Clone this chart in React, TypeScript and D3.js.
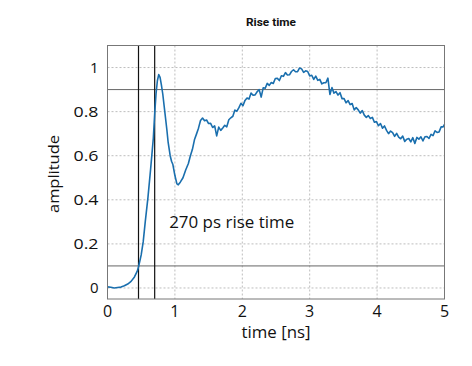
import React, { useRef, useEffect } from 'react';
import * as d3 from 'd3';

// time [ns] and amplitude
const TIME = [
  0.00, 0.05, 0.10, 0.15, 0.20, 0.25, 0.30, 0.35, 0.40, 0.44, 0.46, 0.50, 0.53, 0.56, 0.60, 0.64, 0.68, 0.70,
  0.72, 0.74, 0.76, 0.78, 0.80, 0.82, 0.85, 0.88, 0.90, 0.93, 0.95, 0.97, 1.00, 1.03, 1.05, 1.08, 1.12, 1.16,
  1.20, 1.23, 1.26, 1.29, 1.32, 1.35, 1.38, 1.41, 1.44, 1.47, 1.50, 1.53, 1.56, 1.59, 1.62, 1.65, 1.68, 1.71,
  1.74, 1.77, 1.80, 1.83, 1.86, 1.89, 1.92, 1.95, 1.98, 2.01, 2.04, 2.07, 2.10, 2.13, 2.16, 2.19, 2.22, 2.25,
  2.28, 2.31, 2.34, 2.37, 2.40, 2.43, 2.46, 2.49, 2.52, 2.55, 2.58, 2.61, 2.64, 2.67, 2.70, 2.73, 2.76, 2.79,
  2.82, 2.85, 2.88, 2.91, 2.94, 2.97, 3.00, 3.03, 3.06, 3.09, 3.12, 3.15, 3.18, 3.21, 3.24, 3.27, 3.30, 3.33,
  3.36, 3.39, 3.42, 3.45, 3.48, 3.51, 3.54, 3.57, 3.60, 3.63, 3.66, 3.69, 3.72, 3.75, 3.78, 3.81, 3.84, 3.87,
  3.90, 3.93, 3.96, 3.99, 4.02, 4.05, 4.08, 4.11, 4.14, 4.17, 4.20, 4.23, 4.26, 4.29, 4.32, 4.35, 4.38, 4.41,
  4.44, 4.47, 4.50, 4.53, 4.56, 4.59, 4.62, 4.65, 4.68, 4.71, 4.74, 4.77, 4.80, 4.83, 4.86, 4.89, 4.92, 4.95,
  4.98, 5.00,
];
const AMPLITUDE = [
  0.005, 0.003, 0.000, 0.002, 0.004, 0.010, 0.018, 0.030, 0.050, 0.075, 0.095, 0.150, 0.210, 0.300, 0.410, 0.540, 0.680, 0.790,
  0.880, 0.940, 0.968, 0.955, 0.920, 0.880, 0.800, 0.720, 0.660, 0.600, 0.575, 0.560, 0.510, 0.472, 0.468, 0.480, 0.500, 0.535,
  0.565, 0.600, 0.629, 0.672, 0.698, 0.725, 0.760, 0.771, 0.759, 0.762, 0.746, 0.747, 0.728, 0.735, 0.690, 0.730, 0.715, 0.726,
  0.738, 0.731, 0.763, 0.772, 0.779, 0.807, 0.802, 0.818, 0.838, 0.827, 0.851, 0.862, 0.857, 0.884, 0.874, 0.876, 0.890, 0.900,
  0.866, 0.908, 0.906, 0.928, 0.919, 0.932, 0.928, 0.950, 0.951, 0.941, 0.963, 0.960, 0.977, 0.966, 0.967, 0.982, 0.990, 0.981,
  0.981, 0.998, 0.994, 0.978, 0.985, 0.982, 0.962, 0.965, 0.946, 0.961, 0.942, 0.946, 0.926, 0.931, 0.931, 0.952, 0.878, 0.909,
  0.884, 0.891, 0.875, 0.886, 0.859, 0.859, 0.840, 0.850, 0.832, 0.837, 0.808, 0.818, 0.808, 0.793, 0.805, 0.784, 0.774, 0.782,
  0.769, 0.774, 0.752, 0.755, 0.736, 0.746, 0.725, 0.735, 0.715, 0.700, 0.712, 0.705, 0.688, 0.701, 0.684, 0.677, 0.689, 0.665,
  0.675, 0.678, 0.663, 0.682, 0.656, 0.683, 0.675, 0.686, 0.667, 0.686, 0.687, 0.678, 0.697, 0.691, 0.713, 0.706, 0.708, 0.731,
  0.731, 0.742,
];
const X_TICKS = [0, 1, 2, 3, 4, 5];
const Y_TICKS = [0, 0.2, 0.4, 0.6, 0.8, 1];
const THRESHOLDS = [0.1, 0.9];
const MARKERS = [0.46, 0.70];

export default function App() {
  const ref = useRef<SVGSVGElement>(null);

  useEffect(() => {
    const svg = d3.select(ref.current);
    svg.selectAll('*').remove();

    const W = 472, H = 366;
    const margin = { top: 45.5, right: 27.5, bottom: 67, left: 107.5 };
    const width = W - margin.left - margin.right;
    const height = H - margin.top - margin.bottom;
    const font = "'Open Sans', sans-serif";

    const x = d3.scaleLinear().domain([0, 5]).range([0, width]);
    const y = d3.scaleLinear().domain([-0.05, 1.1]).range([height, 0]);

    svg.append('rect').attr('width', W).attr('height', H).attr('fill', '#fff');

    svg.append('text')
      .attr('x', 246).attr('y', 26)
      .attr('font-family', 'Roboto, sans-serif')
      .attr('font-weight', 'bold')
      .attr('font-size', '11px')
      .attr('textLength', 50)
      .attr('lengthAdjust', 'spacingAndGlyphs')
      .attr('fill', '#111')
      .text('Rise time');

    const g = svg.append('g').attr('transform', `translate(${margin.left},${margin.top})`);

    // ── grid ──
    X_TICKS.slice(1, -1).forEach(t => {
      g.append('line')
        .attr('x1', x(t)).attr('x2', x(t)).attr('y1', 0).attr('y2', height)
        .attr('stroke', '#bdbdbd').attr('stroke-dasharray', '2,2');
    });
    Y_TICKS.forEach(t => {
      g.append('line')
        .attr('x1', 0).attr('x2', width).attr('y1', y(t)).attr('y2', y(t))
        .attr('stroke', '#bdbdbd').attr('stroke-dasharray', '2,2');
    });

    // ── threshold & marker lines ──
    THRESHOLDS.forEach(t => {
      g.append('line')
        .attr('x1', 0).attr('x2', width).attr('y1', y(t)).attr('y2', y(t))
        .attr('stroke', '#666').attr('stroke-width', 1);
    });
    MARKERS.forEach(t => {
      g.append('line')
        .attr('x1', x(t)).attr('x2', x(t)).attr('y1', 0).attr('y2', height)
        .attr('stroke', '#111').attr('stroke-width', 1.2);
    });

    // ── trace ──
    const line = d3.line<number>()
      .x((_, i) => x(TIME[i]))
      .y(d => y(d));
    g.append('path')
      .datum(AMPLITUDE)
      .attr('d', line)
      .attr('fill', 'none')
      .attr('stroke', '#1a6fae')
      .attr('stroke-width', 1.6)
      .attr('stroke-linejoin', 'round');

    // ── frame ──
    g.append('rect')
      .attr('width', width).attr('height', height)
      .attr('fill', 'none').attr('stroke', '#777').attr('stroke-width', 1);

    // ── ticks ──
    X_TICKS.forEach(t => {
      g.append('text')
        .attr('x', x(t)).attr('y', height + 18)
        .attr('text-anchor', 'middle')
        .attr('font-family', font).attr('font-size', '16px').attr('fill', '#111')
        .text(d3.format('d')(t));
    });
    Y_TICKS.forEach(t => {
      const label = t === 0 || t === 1 ? String(t) : d3.format('.1f')(t);
      const txt = g.append('text')
        .attr('x', -9).attr('y', y(t) + 5)
        .attr('text-anchor', 'end')
        .attr('font-family', font).attr('font-size', '15px').attr('fill', '#111')
        .text(label);
      if (label.length > 1) txt.attr('textLength', 25).attr('lengthAdjust', 'spacingAndGlyphs');
    });

    g.append('text')
      .attr('x', width / 2 - 34.5).attr('y', height + 39)
      .attr('font-family', font).attr('font-size', '16px').attr('fill', '#111')
      .attr('textLength', 69).attr('lengthAdjust', 'spacingAndGlyphs')
      .text('time [ns]');

    g.append('text')
      .attr('transform', 'rotate(-90)')
      .attr('x', -(174 - margin.top) - 39).attr('y', -49)
      .attr('font-family', font).attr('font-size', '15px').attr('fill', '#111')
      .attr('textLength', 78).attr('lengthAdjust', 'spacingAndGlyphs')
      .text('amplitude');

    g.append('text')
      .attr('x', x(0.915)).attr('y', 228 - margin.top)
      .attr('font-family', font).attr('font-size', '16px').attr('fill', '#111')
      .attr('textLength', 125).attr('lengthAdjust', 'spacingAndGlyphs')
      .text('270 ps rise time');
  }, []);

  return (
    <div style={{ position: 'fixed', left: 0, top: 0 }}>
      <svg ref={ref} width={472} height={366} style={{ display: 'block' }} />
    </div>
  );
}
